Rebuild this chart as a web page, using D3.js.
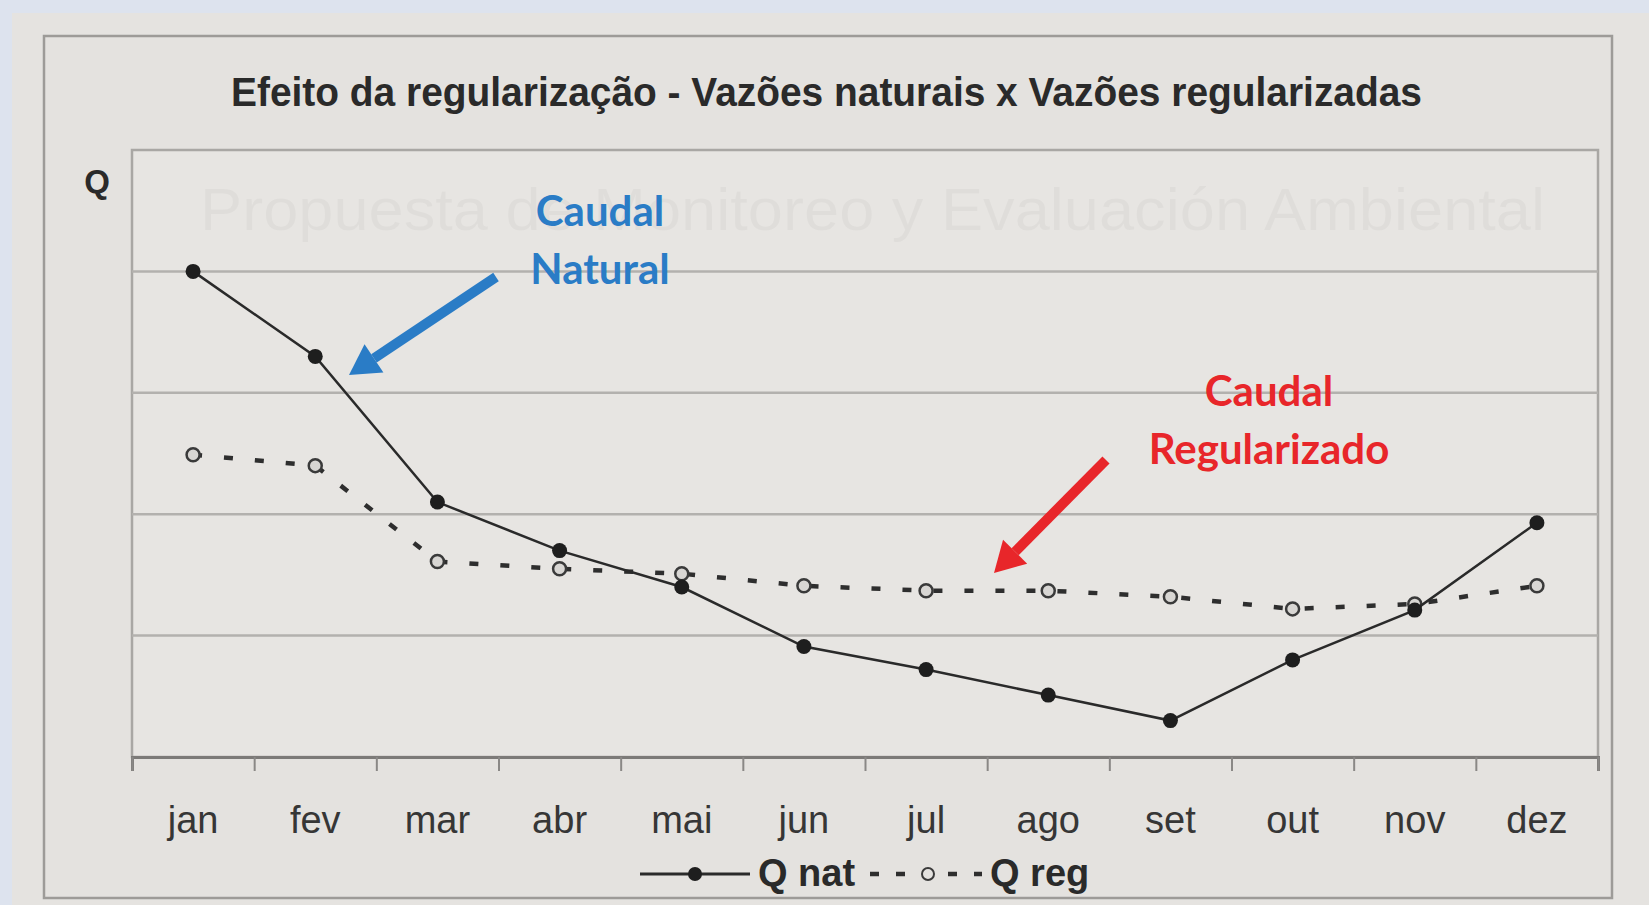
<!DOCTYPE html>
<html>
<head>
<meta charset="utf-8">
<script src="https://cdn.jsdelivr.net/npm/d3@7/dist/d3.min.js"></script>
<style>
  html, body { margin: 0; padding: 0; background: #dde3ee; }
  svg { display: block; }
</style>
</head>
<body>
<script>
const months = ['jan', 'fev', 'mar', 'abr', 'mai', 'jun', 'jul', 'ago', 'set', 'out', 'nov', 'dez'];
const qNat = [4.0, 3.3, 2.1, 1.7, 1.4, 0.91, 0.72, 0.51, 0.3, 0.8, 1.21, 1.93];
const qReg = [2.49, 2.4, 1.61, 1.55, 1.51, 1.41, 1.37, 1.37, 1.32, 1.22, 1.26, 1.41];
const gridValues = [1, 2, 3, 4, 5];
const titleText = 'Efeito da regularização - Vazões naturais x Vazões regularizadas';
const legendNames = ['Q nat', 'Q reg'];

const W = 1649, H = 905;
const plot = { left: 132, right: 1598, top: 150, bottom: 757 };

let svg = d3.select('body').append('svg')
  .attr('width', W).attr('height', H)
  .attr('xmlns', 'http://www.w3.org/2000/svg');

// paper + outer frame
svg.append('rect').attr('x', 0).attr('y', 0).attr('width', W).attr('height', H).style('fill', '#dde3ee');
svg.append('rect').attr('x', 12).attr('y', 13).attr('width', W - 12).attr('height', H - 13).style('fill', '#e5e3e0');
svg.append('rect').attr('x', 44).attr('y', 36).attr('width', 1568).attr('height', 862)
  .style('fill', '#e4e2df').style('stroke', '#9d9b98').style('stroke-width', 2.5);

let x = d3.scaleBand().domain(months).range([plot.left, plot.right]);
let xEdge = d3.scaleLinear().domain([0, months.length]).range([plot.left, plot.right]);
let y = d3.scaleLinear().domain([0, 5]).range([plot.bottom, plot.top]);

// plot area
svg.append('rect')
  .attr('x', plot.left).attr('y', plot.top)
  .attr('width', plot.right - plot.left).attr('height', plot.bottom - plot.top)
  .style('fill', '#e7e5e2').style('stroke', '#a9a7a4').style('stroke-width', 2.5);

// faint show-through text from the other side of the page
svg.append('text').text('Propuesta de Monitoreo y Evaluación Ambiental')
  .attr('x', 200).attr('y', 230)
  .attr('textLength', 1345).attr('lengthAdjust', 'spacingAndGlyphs')
  .style('font-family', 'Liberation Sans, Arial, sans-serif')
  .style('font-size', '60px')
  .style('fill', '#000').style('fill-opacity', 0.03);

// gridlines
svg.append('g').selectAll('line').data(gridValues.slice(0, -1)).join('line')
  .attr('x1', plot.left).attr('x2', plot.right)
  .attr('y1', d => y(d)).attr('y2', d => y(d))
  .style('stroke', '#b3b1ae').style('stroke-width', 2.5);

// bottom axis with ticks between categories
let axis = svg.append('g')
  .attr('transform', `translate(0, ${plot.bottom})`)
  .call(d3.axisBottom(xEdge).ticks(months.length).tickSize(14).tickFormat(''));
axis.select('.domain').style('stroke', '#7c7a78').style('stroke-width', 3);
axis.selectAll('.tick line').style('stroke', '#8a8886').style('stroke-width', 2);

svg.append('g').selectAll('text').data(months).join('text')
  .text(d => d)
  .attr('x', d => x(d) + x.bandwidth() / 2)
  .attr('y', 833)
  .attr('text-anchor', 'middle')
  .style('font-family', 'Liberation Sans, Arial, sans-serif')
  .style('font-size', '38px')
  .style('fill', '#363636');

// title and axis name
svg.append('text').text(titleText)
  .attr('x', 231).attr('y', 106)
  .attr('textLength', 1191).attr('lengthAdjust', 'spacingAndGlyphs')
  .style('font-family', 'Liberation Sans, Arial, sans-serif')
  .style('font-weight', 'bold')
  .style('font-size', '40px')
  .style('fill', '#2a2a2a');

svg.append('text').text('Q')
  .attr('x', 97).attr('y', 193)
  .attr('text-anchor', 'middle')
  .style('font-family', 'Liberation Sans, Arial, sans-serif')
  .style('font-weight', 'bold')
  .style('font-size', '33px')
  .style('fill', '#2a2a2a');

// series
const cx = (d, i) => x(months[i]) + x.bandwidth() / 2;
let line = d3.line().x(cx).y(d => y(d));

svg.append('path').datum(qReg).attr('d', line)
  .style('fill', 'none').style('stroke', '#2e2e2e')
  .style('stroke-width', 4.5).style('stroke-dasharray', '9,22');
svg.append('g').selectAll('circle').data(qReg).join('circle')
  .attr('cx', cx).attr('cy', d => y(d)).attr('r', 6.5)
  .style('fill', '#d8d6d3').style('stroke', '#3a3a3a').style('stroke-width', 2.5);

svg.append('path').datum(qNat).attr('d', line)
  .style('fill', 'none').style('stroke', '#2a2a2a').style('stroke-width', 2.5);
svg.append('g').selectAll('circle').data(qNat).join('circle')
  .attr('cx', cx).attr('cy', d => y(d)).attr('r', 7.5)
  .style('fill', '#1e1e1e');

// legend
let legend = svg.append('g');
legend.append('line').attr('x1', 640).attr('x2', 750).attr('y1', 874).attr('y2', 874)
  .style('stroke', '#2a2a2a').style('stroke-width', 3);
legend.append('circle').attr('cx', 695).attr('cy', 874).attr('r', 7).style('fill', '#1e1e1e');
legend.append('text').text(legendNames[0]).attr('x', 758).attr('y', 886)
  .style('font-family', 'Liberation Sans, Arial, sans-serif').style('font-weight', 'bold')
  .style('font-size', '38px').style('fill', '#2a2a2a');
legend.append('line').attr('x1', 870).attr('x2', 982).attr('y1', 874).attr('y2', 874)
  .style('stroke', '#2e2e2e').style('stroke-width', 4.5).style('stroke-dasharray', '9,17');
legend.append('circle').attr('cx', 928).attr('cy', 874).attr('r', 6)
  .style('fill', '#e4e2df').style('stroke', '#3a3a3a').style('stroke-width', 2);
legend.append('text').text(legendNames[1]).attr('x', 990).attr('y', 886)
  .style('font-family', 'Liberation Sans, Arial, sans-serif').style('font-weight', 'bold')
  .style('font-size', '38px').style('fill', '#2a2a2a');

// annotations
const notes = [
  { lines: ['Caudal', 'Natural'], x: 600, y: 226, color: '#2a7cc6', from: [496, 277], to: [349, 375] },
  { lines: ['Caudal', 'Regularizado'], x: 1269, y: 406, color: '#e8262a', from: [1106, 460], to: [994, 573] }
];
notes.forEach(n => {
  n.lines.forEach((t, k) => {
    svg.append('text').text(t)
      .attr('x', n.x).attr('y', n.y + k * 58)
      .attr('text-anchor', 'middle')
      .style('font-family', 'Lato, sans-serif').style('font-weight', 'bold')
      .style('font-size', '42px').style('fill', n.color);
  });
  const dx = n.to[0] - n.from[0], dy = n.to[1] - n.from[1];
  const len = Math.hypot(dx, dy), ux = dx / len, uy = dy / len;
  const head = 30, half = 17;
  const bx = n.to[0] - ux * head, by = n.to[1] - uy * head;
  svg.append('line').attr('x1', n.from[0]).attr('y1', n.from[1]).attr('x2', bx).attr('y2', by)
    .style('stroke', n.color).style('stroke-width', 10);
  svg.append('polygon')
    .attr('points', `${n.to[0]},${n.to[1]} ${bx - uy * half},${by + ux * half} ${bx + uy * half},${by - ux * half}`)
    .style('fill', n.color);
});
</script>
</body>
</html>
